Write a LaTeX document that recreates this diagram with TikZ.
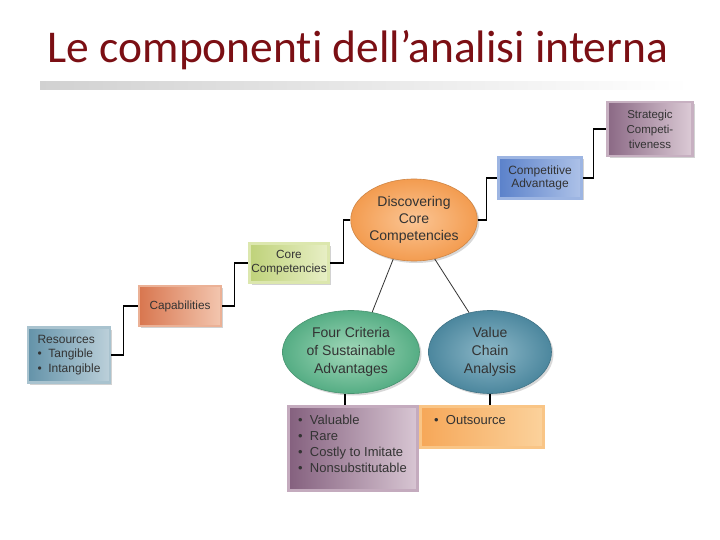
\documentclass[tikz,border=0pt]{standalone}
\usepackage{fontspec}
\setmainfont{Liberation Sans}
\newfontfamily\titlefont[Ligatures=NoCommon]{Carlito}
\usetikzlibrary{shapes.geometric,shadows,calc}
\definecolor{titlered}{HTML}{7B0F14}
\definecolor{txt}{HTML}{333333}
\definecolor{resA}{HTML}{6493A9}\definecolor{resB}{HTML}{BCD0DA}\definecolor{resR}{HTML}{A9C3CF}
\definecolor{capA}{HTML}{D8764F}\definecolor{capB}{HTML}{F3C6AF}\definecolor{capR}{HTML}{EBB196}
\definecolor{corA}{HTML}{BFD27A}\definecolor{corB}{HTML}{E8EFC6}\definecolor{corR}{HTML}{DCE7AE}
\definecolor{advA}{HTML}{5B81CA}\definecolor{advB}{HTML}{AEC2E8}\definecolor{advR}{HTML}{9DB5E2}
\definecolor{strA}{HTML}{8B6985}\definecolor{strB}{HTML}{DCCBD6}\definecolor{strR}{HTML}{C7B0C1}
\definecolor{criA}{HTML}{84607E}\definecolor{criB}{HTML}{D8C6D3}\definecolor{criR}{HTML}{C4ABBE}
\definecolor{outA}{HTML}{F6A758}\definecolor{outB}{HTML}{FBD29C}\definecolor{outR}{HTML}{F9C586}
\definecolor{disO}{HTML}{F39C50}\definecolor{disI}{HTML}{FBC594}
\definecolor{fouO}{HTML}{55AD84}\definecolor{fouI}{HTML}{A3D9BA}
\definecolor{valO}{HTML}{4C879E}\definecolor{valI}{HTML}{8DB8C8}
\tikzset{
  boxsh/.style={rectangle, line width=2.5pt, drop shadow={opacity=0.35,shadow xshift=2pt,shadow yshift=-2pt}, text=txt, font=\fontsize{12}{13.5}\selectfont, align=center, inner sep=1pt},
  ell/.style={ellipse, line width=0.6pt, text=txt, font=\fontsize{14}{17}\selectfont, align=center, inner sep=0pt, drop shadow={opacity=0.3,shadow xshift=2pt,shadow yshift=-2pt}},
  conn/.style={draw=black, line width=1.3pt},
  thin/.style={draw=black!80, line width=0.8pt},
  lbl/.style={text=txt, align=left, inner sep=0pt}
}
\begin{document}
\begin{tikzpicture}[x=1pt,y=-1pt]
\useasboundingbox (0,0) rectangle (720,540);
\fill[white] (0,0) rectangle (720,540);
% title
\node[font=\titlefont\fontsize{45.5}{50}\selectfont, text=titlered] (title) at (358,50) {Le componenti dell’analisi interna};
\shade[left color=black!18, right color=white] (40,82) rectangle (690,90);

% boxes
\node[boxsh, draw=resR, minimum width=82pt, minimum height=55pt, left color=resA, right color=resB, align=left, font=\fontsize{12}{14.5}\selectfont] (res) at (69,355) {Resources\\\textbullet\ \ Tangible\\\textbullet\ \ Intangible};
\node[boxsh, draw=capR, minimum width=82pt, minimum height=40pt, left color=capA, right color=capB, font=\fontsize{11.8}{13}\selectfont] (cap) at (180,306) {Capabilities};
\node[boxsh, draw=corR, minimum width=79pt, minimum height=39pt, left color=corA, right color=corB, font=\fontsize{11.8}{14}\selectfont] (core) at (289,263) {Core\\Competencies};
\node[ell, draw=disO!85!black, minimum width=122pt, minimum height=82pt, inner color=disI, outer color=disO] (disc) at (414,220) {Discovering\\Core\\Competencies};
\node[boxsh, draw=advR, minimum width=83pt, minimum height=41pt, left color=advA, right color=advB] (adv) at (540,178) {Competitive\\Advantage};
\node[boxsh, draw=strR, minimum width=85pt, minimum height=54pt, left color=strA, right color=strB, font=\fontsize{11.5}{15}\selectfont] (strat) at (650,129) {Strategic\\Competi-\\tiveness};

\node[ell, draw=fouO!85!black, minimum width=137pt, minimum height=83pt, inner color=fouI, outer color=fouO, font=\fontsize{14}{18}\selectfont] (four) at (351,352) {Four Criteria\\of Sustainable\\Advantages};
\node[ell, draw=valO!85!black, minimum width=123pt, minimum height=83pt, inner color=valI, outer color=valO, font=\fontsize{14}{18}\selectfont] (vca) at (490,352) {Value\\Chain\\Analysis};

\node[boxsh, draw=criR, minimum width=129pt, minimum height=84pt, left color=criA, right color=criB, anchor=north west] (crit) at (287,405) {};
\node[lbl, font=\fontsize{13}{16}\selectfont, anchor=north west] (critt) at (298,415) {\textbullet\ \ Valuable\\\textbullet\ \ Rare\\\textbullet\ \ Costly to Imitate\\\textbullet\ \ Nonsubstitutable};
\node[boxsh, draw=outR, minimum width=123pt, minimum height=41pt, left color=outA, right color=outB, anchor=north west] (out) at (419,405) {};
\node[lbl, font=\fontsize{13}{16}\selectfont, anchor=north west] (outt) at (434,415) {\textbullet\ \ Outsource};

% connectors
\draw[conn] (res.east) -- ++(12,0) |- (cap.west);
\draw[conn] (cap.east) -- ++(12,0) |- (core.west);
\draw[conn] (core.east) -- ++(14,0) |- (disc.west);
\draw[conn] (disc.east) -- ++(9,0) |- (adv.west);
\draw[conn] (adv.east) -- ++(11,0) |- (strat.west);
\draw[thin] (disc.-118) -- (four.62);
\draw[thin] (disc.-62) -- (vca.118);
\draw[conn] (four.south) ++(-6,0) coordinate (fs) -- (fs |- crit.north);
\draw[conn] (vca.south) -- (vca.south |- out.north);
\end{tikzpicture}
\end{document}
